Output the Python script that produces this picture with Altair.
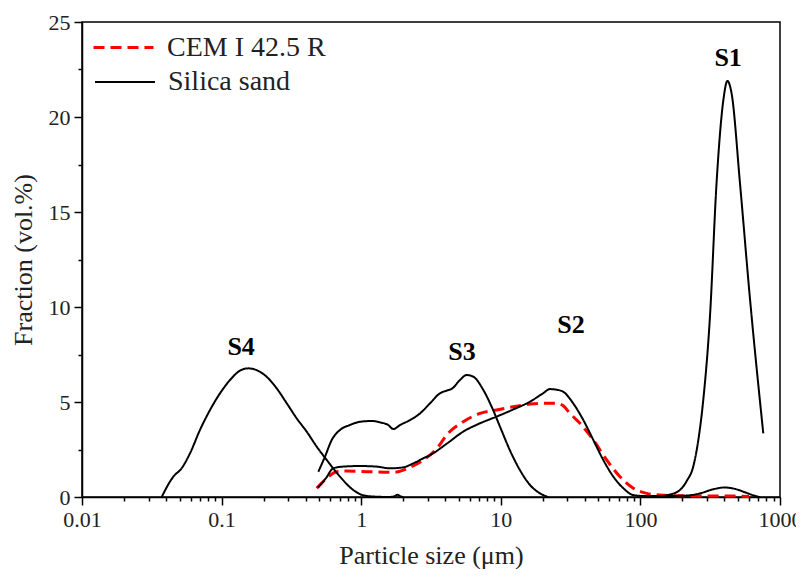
import altair as alt
import pandas as pd

# ---- data ----
s4_x = [0.0372, 0.0451, 0.0517, 0.0594, 0.070, 0.0826, 0.0975, 0.115, 0.1355, 0.155, 0.178, 0.21,
        0.248, 0.293, 0.345, 0.407, 0.48, 0.566, 0.705, 0.877, 1.035, 1.25, 1.6, 1.75, 1.82, 1.9, 2.0]
s4_y = [0.0, 1.07, 1.51, 2.3, 3.53, 4.58, 5.46, 6.16, 6.65, 6.77, 6.68, 6.33,
        5.72, 4.93, 4.14, 3.44, 2.65, 1.95, 1.07, 0.37, 0.09, 0.02, 0.0, 0.06, 0.12, 0.05, 0.0]

s3_x = [0.493, 0.55, 0.615, 0.705, 0.83, 0.98, 1.2, 1.36, 1.56, 1.70, 1.90, 2.24, 2.64, 3.11,
        3.67, 4.1, 4.5, 5.1, 5.7, 6.36, 7.5, 8.6, 9.87, 11.6, 13.7, 16.2, 19.1, 21.9]
s3_y = [1.33, 2.12, 3.0, 3.53, 3.79, 3.96, 4.0, 3.93, 3.79, 3.58, 3.79, 4.05, 4.4, 4.93,
        5.46, 5.6, 5.72, 6.16, 6.42, 6.33, 5.63, 4.75, 3.7, 2.47, 1.42, 0.63, 0.19, 0.0]

s2_x = [0.49, 0.56, 0.63, 0.745, 0.98, 1.29, 1.61, 2.0, 2.36, 2.79, 3.11, 4.09, 5.38, 7.1, 9.33,
        12.3, 16.2, 20.1, 22.5, 25.8, 28, 33, 39, 46, 54.2, 64, 75.5, 89, 110, 150, 220, 270,
        330, 400, 480, 560, 650, 720]
s2_y = [0.5, 1.0, 1.51, 1.6, 1.63, 1.6, 1.51, 1.56, 1.77, 2.04, 2.2, 2.8, 3.44, 3.88, 4.23,
        4.61, 5.02, 5.46, 5.68, 5.63, 5.54, 4.93, 4.05, 3.0, 1.95, 1.07, 0.46, 0.1, 0.05, 0.05, 0.08, 0.2,
        0.4, 0.5, 0.42, 0.25, 0.08, 0.0]

s1_x = [100, 124, 160, 192, 215, 239, 260, 282, 315, 351, 393, 420, 451, 517, 610, 759]
s1_y = [0.0, 0.02, 0.12, 0.37, 0.85, 1.6, 3.0, 5.1, 9.5, 16.5, 20.9, 21.9, 21.2, 16.5, 10.4, 3.35]

cem_x = [0.48, 0.566, 0.667, 0.787, 1.16, 1.70, 2.24, 2.79, 3.57, 4.09, 5.38, 7.1, 9.33, 12.3,
         16.2, 20, 25.1, 28, 31.3, 36.9, 46, 57.3, 71.4, 89, 111, 138, 200, 300, 450, 600]
cem_y = [0.46, 0.98, 1.33, 1.37, 1.33, 1.3, 1.56, 1.95, 2.65, 3.26, 3.96, 4.4, 4.58, 4.75,
         4.89, 4.93, 4.93, 4.8, 4.4, 3.88, 3.0, 1.95, 1.07, 0.46, 0.19, 0.1, 0.06, 0.05, 0.05, 0.03]

series_names = ["CEM I 42.5 R", "Silica sand"]
series_colors = ["#ff0000", "#000000"]
series_dashes = [[11, 6], [1, 0]]

peak_labels = ["S1", "S2", "S3", "S4"]
peak_label_x = [425, 31.8, 5.27, 0.138]
peak_label_y = [23.1, 9.05, 7.65, 7.9]

x_tick_labels = ["0.01", "0.1", "1", "10", "100", "1000"]

# ---- tables ----
rows = []
def add(name, series, xs, ys):
    for i, (x, y) in enumerate(zip(xs, ys)):
        rows.append({"curve": name, "series": series, "series_dash": series,
                     "size": x, "frac": y, "i": i})

add("CEM", series_names[0], cem_x, cem_y)
add("S4", series_names[1], s4_x, s4_y)
add("S3", series_names[1], s3_x, s3_y)
add("S2", series_names[1], s2_x, s2_y)
add("S1", series_names[1], s1_x, s1_y)
df = pd.DataFrame(rows)

lab = pd.DataFrame({"text": peak_labels, "size": peak_label_x, "frac": peak_label_y})

decades = [float(v) for v in x_tick_labels]
x_ticks = [d * m for d in decades[:-1] for m in range(1, 10)] + [decades[-1]]
y_ticks = [v / 2 for v in range(0, 51, 5)]

FONT = "Liberation Serif"
decade_test = "abs(log(datum.value)/LN10 - round(log(datum.value)/LN10)) < 0.001"

x_scale = alt.Scale(type="log", domain=[0.01, 1000])
y_scale = alt.Scale(domain=[0, 25])

x_axis = alt.Axis(
    values=x_ticks, format="~g", title="Particle size (μm)",
    labelExpr=f"{decade_test} ? datum.label : ''",
    tickSize={"condition": {"test": decade_test, "value": 8}, "value": 4},
    grid=False, labelFontSize=22, titleFontSize=26, labelPadding=4, titlePadding=12,
    labelFlush=False,
)
y_axis = alt.Axis(
    values=y_ticks, title="Fraction (vol.%)",
    labelExpr="datum.value % 5 == 0 ? datum.label : ''",
    tickSize={"condition": {"test": "datum.value % 5 == 0", "value": 8}, "value": 4},
    grid=False, labelFontSize=22, titleFontSize=26, labelPadding=4, titlePadding=12,
)

leg_cem = alt.Legend(title=None, orient="none", legendX=10, legendY=-6,
                     values=[series_names[0]], symbolDash=series_dashes[0], symbolStrokeWidth=3)
leg_sand = alt.Legend(title=None, orient="none", legendX=12, legendY=29,
                      values=[series_names[1]], symbolStrokeColor="black", symbolStrokeWidth=2)

lines = alt.Chart(df).mark_line(interpolate="monotone").encode(
    x=alt.X("size:Q", scale=x_scale, axis=x_axis),
    y=alt.Y("frac:Q", scale=y_scale, axis=y_axis),
    color=alt.Color("series:N", scale=alt.Scale(domain=series_names, range=series_colors), legend=leg_cem),
    strokeDash=alt.StrokeDash("series_dash:N",
                              scale=alt.Scale(domain=series_names[::-1], range=series_dashes[::-1]),
                              legend=leg_sand),
    strokeWidth=alt.StrokeWidth("series:N", scale=alt.Scale(domain=series_names, range=[3, 2]), legend=None),
    detail="curve:N",
    order="i:Q",
)

texts = alt.Chart(lab).mark_text(font=FONT, fontSize=26, fontWeight="bold", color="black").encode(
    x=alt.X("size:Q", scale=x_scale),
    y=alt.Y("frac:Q", scale=y_scale),
    text="text:N",
)

chart = alt.layer(lines, texts).properties(
    width=698, height=475,
    autosize=alt.AutoSizeParams(type="none"),
    padding={"left": 74, "top": 14, "right": 16, "bottom": 72},
).configure(
    font=FONT,
).configure_view(
    stroke="black", strokeWidth=1.5,
).configure_axis(
    domainColor="black", domainWidth=1.5, tickColor="black", tickWidth=1.5,
    labelColor="#222", titleColor="#222", labelFont=FONT, titleFont=FONT,
    titleFontWeight="normal",
).configure_legend(
    symbolType="stroke", symbolSize=3600,
    labelFont=FONT, labelFontSize=28, labelColor="#222", labelOffset=12,
)

chart.save("out.html", embed_options={"renderer": "svg", "actions": False})
